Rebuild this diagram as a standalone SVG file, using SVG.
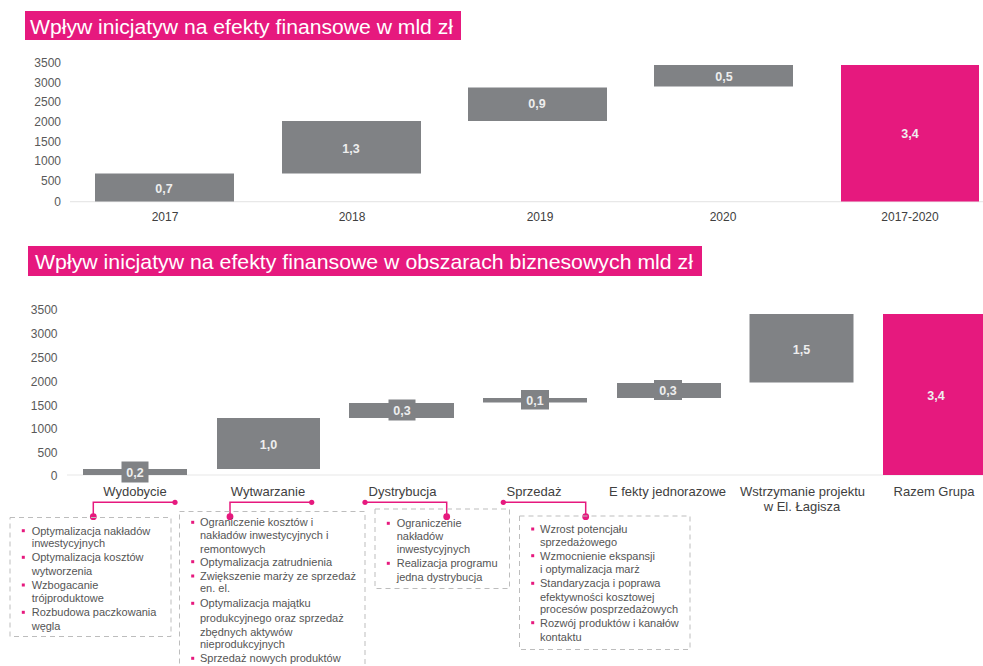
<svg xmlns="http://www.w3.org/2000/svg" width="983" height="666" viewBox="0 0 983 666">
<style>
  .bg{fill:#ffffff}
  .title{fill:#E6197E}
  .ttl{font-family:"Liberation Sans",Arial,sans-serif;fill:#ffffff}
  .bar{fill:#808285}
  .tot{fill:#E6197E}
  .val{font-family:"Liberation Sans",Arial,sans-serif;font-size:12.5px;font-weight:bold;fill:#eeeeee;text-anchor:middle}
  .ax{font-family:"Liberation Sans",Arial,sans-serif;font-size:12px;fill:#595959;text-anchor:end}
  .cat{font-family:"Liberation Sans",Arial,sans-serif;font-size:12px;fill:#404040;text-anchor:middle}
  .cat2{font-family:"Liberation Sans",Arial,sans-serif;font-size:13px;fill:#404040;text-anchor:middle}
  .base{stroke:#e8e8e8;stroke-width:1.2;fill:none}
  .box{fill:none;stroke:#bdbdbd;stroke-width:1;stroke-dasharray:5 4}
  .bt{font-family:"Liberation Sans",Arial,sans-serif;font-size:11px;fill:#555555}
  .bul{fill:#E6197E}
  .con{stroke:#E6197E;stroke-width:1.5;fill:none}
  .dot{fill:#E6197E}
</style>
<rect class="bg" x="0" y="0" width="983" height="666"/>

<g id="title1">
  <rect class="title" x="25" y="11" width="436" height="29"/>
  <text class="ttl" x="30" y="34" font-size="20" textLength="423" lengthAdjust="spacingAndGlyphs">Wpływ inicjatyw na efekty finansowe w mld zł</text>
</g>

<g id="chart1-axis">
  <line class="base" x1="70" y1="201.7" x2="983" y2="201.7"/>
  <text class="ax" x="61" y="67">3500</text>
  <text class="ax" x="61" y="86.6">3000</text>
  <text class="ax" x="61" y="106.3">2500</text>
  <text class="ax" x="61" y="126">2000</text>
  <text class="ax" x="61" y="145.6">1500</text>
  <text class="ax" x="61" y="165.3">1000</text>
  <text class="ax" x="61" y="185.3">500</text>
  <text class="ax" x="61" y="206">0</text>
</g>

<g id="bar-2017">
  <rect class="bar" x="95" y="173.5" width="139" height="28"/>
  <text class="val" x="164" y="192.5">0,7</text>
  <text class="cat" x="165" y="221">2017</text>
</g>
<g id="bar-2018">
  <rect class="bar" x="282" y="121" width="139" height="52.5"/>
  <text class="val" x="351" y="153">1,3</text>
  <text class="cat" x="352" y="221">2018</text>
</g>
<g id="bar-2019">
  <rect class="bar" x="468" y="87.5" width="139" height="33.5"/>
  <text class="val" x="537" y="108">0,9</text>
  <text class="cat" x="540" y="221">2019</text>
</g>
<g id="bar-2020">
  <rect class="bar" x="654" y="65" width="139" height="21.5"/>
  <text class="val" x="724" y="81">0,5</text>
  <text class="cat" x="723" y="221">2020</text>
</g>
<g id="bar-2017-2020">
  <rect class="tot" x="841" y="65" width="138" height="136.5"/>
  <text class="val" x="910" y="138" fill="#ffffff">3,4</text>
  <text class="cat" x="910" y="221">2017-2020</text>
</g>

<g id="title2">
  <rect class="title" x="28" y="246" width="674" height="30"/>
  <text class="ttl" x="35" y="269" font-size="21" textLength="658" lengthAdjust="spacingAndGlyphs">Wpływ inicjatyw na efekty finansowe w obszarach biznesowych mld zł</text>
</g>

<g id="chart2-axis">
  <line class="base" x1="67" y1="475" x2="983" y2="475"/>
  <text class="ax" x="57.5" y="313.8">3500</text>
  <text class="ax" x="57.5" y="337.8">3000</text>
  <text class="ax" x="57.5" y="362.2">2500</text>
  <text class="ax" x="57.5" y="385.5">2000</text>
  <text class="ax" x="57.5" y="409.5">1500</text>
  <text class="ax" x="57.5" y="432.8">1000</text>
  <text class="ax" x="57.5" y="456.8">500</text>
  <text class="ax" x="57.5" y="479.5">0</text>
</g>

<g id="bar-wydobycie">
  <rect class="bar" x="83" y="469" width="104" height="6"/>
  <rect class="bar" x="121.5" y="461.5" width="27" height="21"/>
  <text class="val" x="135" y="476.5">0,2</text>
  <text class="cat2" x="135" y="496">Wydobycie</text>
</g>
<g id="bar-wytwarzanie">
  <rect class="bar" x="217" y="418" width="103" height="51"/>
  <text class="val" x="268.5" y="448.5">1,0</text>
  <text class="cat2" x="268" y="496">Wytwarzanie</text>
</g>
<g id="bar-dystrybucja">
  <rect class="bar" x="349" y="403" width="105" height="15"/>
  <rect class="bar" x="388.5" y="399.5" width="27" height="21"/>
  <text class="val" x="402" y="414.5">0,3</text>
  <text class="cat2" x="402.5" y="496">Dystrybucja</text>
</g>
<g id="bar-sprzedaz">
  <rect class="bar" x="483" y="398" width="104" height="4.5"/>
  <rect class="bar" x="521" y="390" width="28" height="19.5"/>
  <text class="val" x="535" y="404.5">0,1</text>
  <text class="cat2" x="534" y="496">Sprzedaż</text>
</g>
<g id="bar-efekty">
  <rect class="bar" x="617" y="383" width="104" height="15"/>
  <rect class="bar" x="654" y="380" width="28" height="20"/>
  <text class="val" x="668" y="395">0,3</text>
  <text class="cat2" x="667.5" y="496">E fekty jednorazowe</text>
</g>
<g id="bar-wstrzymanie">
  <rect class="bar" x="749.5" y="314" width="104" height="68.5"/>
  <text class="val" x="801.5" y="354">1,5</text>
  <text class="cat2" x="802.5" y="496">Wstrzymanie projektu</text>
  <text class="cat2" x="802" y="510.5">w El. Łagisza</text>
</g>
<g id="bar-razem">
  <rect class="tot" x="883" y="314" width="100" height="161"/>
  <text class="val" x="936" y="400" fill="#ffffff">3,4</text>
  <text class="cat2" x="934" y="496">Razem Grupa</text>
</g>

<g id="connectors">
  <path class="con" d="M175 502.3 H93.3 V516.7"/>
  <circle class="dot" cx="175" cy="502.3" r="2.6"/>
  <circle class="dot" cx="93.3" cy="516.7" r="3.4"/>
  <path class="con" d="M311.7 502.3 H230 V516.7"/>
  <circle class="dot" cx="311.7" cy="502.3" r="2.6"/>
  <circle class="dot" cx="230" cy="516.7" r="3.4"/>
  <path class="con" d="M365 502.3 H446.7 V516.7"/>
  <circle class="dot" cx="365" cy="502.3" r="2.6"/>
  <circle class="dot" cx="446.7" cy="516.7" r="3.4"/>
  <path class="con" d="M503.3 502.3 H585.7 V516.7"/>
  <circle class="dot" cx="503.3" cy="502.3" r="2.6"/>
  <circle class="dot" cx="585.7" cy="516.7" r="3.4"/>
</g>

<g id="box-wydobycie">
  <rect class="box" x="10" y="517.5" width="161" height="119"/>
  <rect class="bul" x="21.8" y="529.2" width="3" height="3"/>
  <text class="bt" x="31.7" y="534.5">Optymalizacja nakładów</text>
  <text class="bt" x="31.7" y="546.5">inwestycyjnych</text>
  <rect class="bul" x="21.8" y="555.8" width="3" height="3"/>
  <text class="bt" x="31.7" y="561">Optymalizacja kosztów</text>
  <text class="bt" x="31.7" y="574.8">wytworzenia</text>
  <rect class="bul" x="21.8" y="583.5" width="3" height="3"/>
  <text class="bt" x="31.7" y="588.8">Wzbogacanie</text>
  <text class="bt" x="31.7" y="602">trójproduktowe</text>
  <rect class="bul" x="21.8" y="610.8" width="3" height="3"/>
  <text class="bt" x="31.7" y="616">Rozbudowa  paczkowania</text>
  <text class="bt" x="31.7" y="629.8">węgla</text>
</g>

<g id="box-wytwarzanie">
  <rect class="box" x="179.5" y="511.5" width="185.5" height="165"/>
  <rect class="bul" x="191.2" y="520.8" width="3" height="3"/>
  <text class="bt" x="200" y="526">Ograniczenie  kosztów  i</text>
  <text class="bt" x="200" y="538.8">nakładów  inwestycyjnych i</text>
  <text class="bt" x="200" y="553">remontowych</text>
  <rect class="bul" x="191.2" y="560.2" width="3" height="3"/>
  <text class="bt" x="200" y="565.5">Optymalizacja zatrudnienia</text>
  <rect class="bul" x="191.2" y="574.5" width="3" height="3"/>
  <text class="bt" x="200" y="579.8">Zwiększenie  marży ze sprzedaż</text>
  <text class="bt" x="200" y="592">en. el.</text>
  <rect class="bul" x="191.2" y="601.8" width="3" height="3"/>
  <text class="bt" x="200" y="607">Optymalizacja majątku</text>
  <text class="bt" x="200" y="621.5">produkcyjnego oraz  sprzedaż</text>
  <text class="bt" x="200" y="635.5">zbędnych aktywów</text>
  <text class="bt" x="200" y="648">nieprodukcyjnych</text>
  <rect class="bul" x="191.2" y="656.8" width="3" height="3"/>
  <text class="bt" x="200" y="662">Sprzedaż  nowych produktów</text>
</g>

<g id="box-dystrybucja">
  <rect class="box" x="375" y="509" width="134.5" height="79.5"/>
  <rect class="bul" x="386.8" y="521.8" width="3" height="3"/>
  <text class="bt" x="396.7" y="527">Ograniczenie</text>
  <text class="bt" x="396.7" y="539.8">nakładów</text>
  <text class="bt" x="396.7" y="553">inwestycyjnych</text>
  <rect class="bul" x="386.8" y="561.8" width="3" height="3"/>
  <text class="bt" x="396.7" y="567">Realizacja programu</text>
  <text class="bt" x="396.7" y="581">jedna dystrybucja</text>
</g>

<g id="box-sprzedaz">
  <rect class="box" x="519.5" y="516" width="170.5" height="133.5"/>
  <rect class="bul" x="531.2" y="527.5" width="3" height="3"/>
  <text class="bt" x="540" y="532.8">Wzrost potencjału</text>
  <text class="bt" x="540" y="545.5">sprzedażowego</text>
  <rect class="bul" x="531.2" y="554.2" width="3" height="3"/>
  <text class="bt" x="540" y="559.5">Wzmocnienie ekspansji</text>
  <text class="bt" x="540" y="572.8">i optymalizacja marż</text>
  <rect class="bul" x="531.2" y="581.8" width="3" height="3"/>
  <text class="bt" x="540" y="587">Standaryzacja i poprawa</text>
  <text class="bt" x="540" y="600.5">efektywności kosztowej</text>
  <text class="bt" x="540" y="613">procesów posprzedażowych</text>
  <rect class="bul" x="531.2" y="621.2" width="3" height="3"/>
  <text class="bt" x="540" y="626.5">Rozwój  produktów  i kanałów</text>
  <text class="bt" x="540" y="640.5">kontaktu</text>
</g>
</svg>
